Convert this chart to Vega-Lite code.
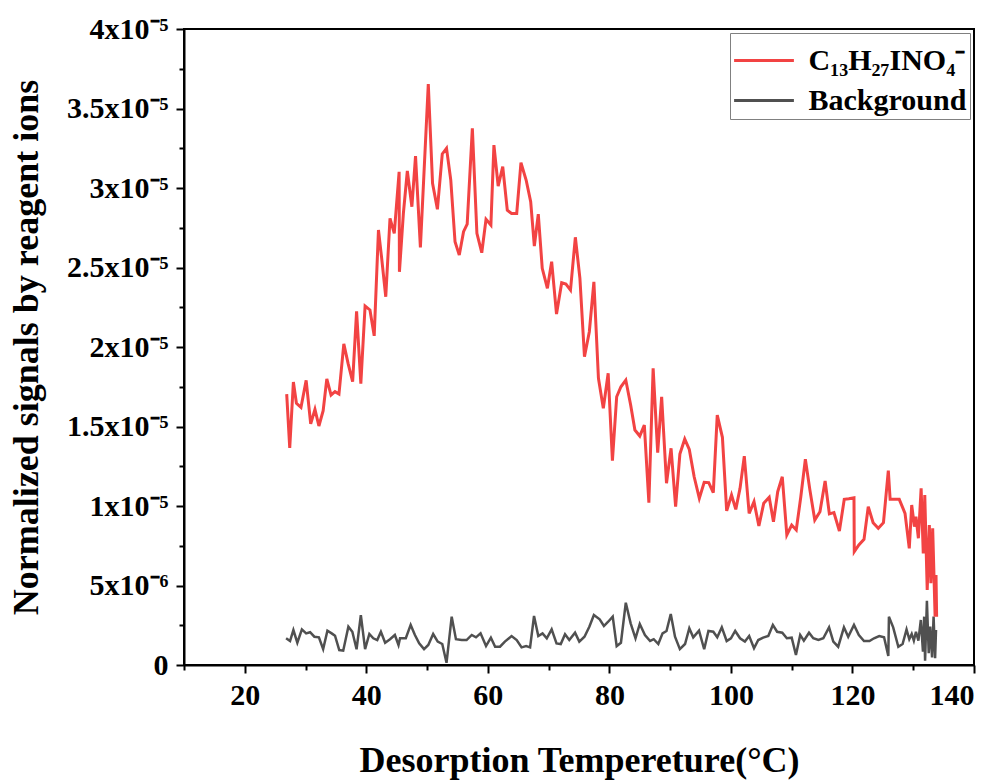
{
"$schema": "https://vega.github.io/schema/vega-lite/v6.json",
"width": 790,
"height": 636,
"autosize": {"type": "none"},
"padding": {"left": 184, "top": 29, "right": 30, "bottom": 115},
"background": "white",
"config": {"view": {"stroke": "black", "strokeWidth": 2}, "font": "Liberation Serif"},
"datasets": {
"red": [
{"t":26.9,"v":1.704e-5},{"t":27.4,"v":1.365e-5},{"t":28.0,"v":1.78e-5},{"t":28.5,"v":1.646e-5},{"t":29.25,"v":1.62e-5},{"t":30.1,"v":1.79e-5},{"t":30.85,"v":1.516e-5},{"t":31.55,"v":1.608e-5},{"t":32.2,"v":1.503e-5},{"t":32.9,"v":1.599e-5},{"t":33.5,"v":1.8e-5},{"t":34.2,"v":1.698e-5},{"t":34.85,"v":1.719e-5},{"t":35.5,"v":1.704e-5},{"t":36.3,"v":2.02e-5},{"t":37.0,"v":1.897e-5},{"t":37.75,"v":1.782e-5},{"t":38.4,"v":2.224e-5},{"t":39.1,"v":1.77e-5},{"t":39.8,"v":2.258e-5},{"t":40.6,"v":2.233e-5},{"t":41.3,"v":2.07e-5},{"t":42.0,"v":2.736e-5},{"t":42.5,"v":2.568e-5},{"t":43.2,"v":2.316e-5},{"t":43.9,"v":2.809e-5},{"t":44.6,"v":2.715e-5},{"t":45.4,"v":3.102e-5},{"t":45.45,"v":2.473e-5},{"t":46.1,"v":2.84e-5},{"t":46.75,"v":3.107e-5},{"t":47.5,"v":2.882e-5},{"t":48.1,"v":3.2e-5},{"t":48.9,"v":2.627e-5},{"t":50.2,"v":3.654e-5},{"t":50.9,"v":3.03e-5},{"t":51.7,"v":2.866e-5},{"t":52.5,"v":3.214e-5},{"t":53.2,"v":3.25e-5},{"t":53.9,"v":3.05e-5},{"t":54.6,"v":2.662e-5},{"t":55.3,"v":2.578e-5},{"t":56.0,"v":2.725e-5},{"t":56.6,"v":2.773e-5},{"t":57.45,"v":3.375e-5},{"t":58.2,"v":2.715e-5},{"t":59.0,"v":2.593e-5},{"t":59.7,"v":2.803e-5},{"t":60.5,"v":2.767e-5},{"t":61.0,"v":3.27e-5},{"t":61.7,"v":3.012e-5},{"t":62.45,"v":3.134e-5},{"t":63.2,"v":2.86e-5},{"t":63.9,"v":2.84e-5},{"t":64.75,"v":2.84e-5},{"t":65.45,"v":3.159e-5},{"t":66.3,"v":3.05e-5},{"t":67.05,"v":2.914e-5},{"t":67.65,"v":2.635e-5},{"t":68.3,"v":2.836e-5},{"t":68.95,"v":2.495e-5},{"t":69.8,"v":2.369e-5},{"t":70.5,"v":2.537e-5},{"t":71.3,"v":2.207e-5},{"t":72.15,"v":2.404e-5},{"t":72.85,"v":2.396e-5},{"t":73.6,"v":2.358e-5},{"t":74.4,"v":2.69e-5},{"t":75.15,"v":2.432e-5},{"t":75.9,"v":1.939e-5},{"t":76.7,"v":2.096e-5},{"t":77.45,"v":2.41e-5},{"t":78.2,"v":1.803e-5},{"t":79.0,"v":1.614e-5},{"t":79.8,"v":1.835e-5},{"t":80.5,"v":1.285e-5},{"t":81.2,"v":1.687e-5},{"t":81.9,"v":1.75e-5},{"t":82.7,"v":1.792e-5},{"t":83.5,"v":1.635e-5},{"t":84.2,"v":1.478e-5},{"t":85.0,"v":1.44e-5},{"t":85.75,"v":1.509e-5},{"t":86.5,"v":1.021e-5},{"t":87.2,"v":1.866e-5},{"t":87.95,"v":1.335e-5},{"t":88.6,"v":1.687e-5},{"t":89.4,"v":1.143e-5},{"t":90.15,"v":1.363e-5},{"t":90.9,"v":9.96e-6},{"t":91.6,"v":1.327e-5},{"t":92.4,"v":1.421e-5},{"t":93.15,"v":1.356e-5},{"t":93.95,"v":1.184e-5},{"t":94.8,"v":1.048e-5},{"t":95.6,"v":1.149e-5},{"t":96.35,"v":1.147e-5},{"t":97.1,"v":1.084e-5},{"t":97.75,"v":1.572e-5},{"t":98.6,"v":1.432e-5},{"t":99.3,"v":9.69e-6},{"t":100.1,"v":1.069e-5},{"t":100.8,"v":9.79e-6},{"t":101.5,"v":1.111e-5},{"t":102.2,"v":1.314e-5},{"t":103.0,"v":9.54e-6},{"t":103.8,"v":1.027e-5},{"t":104.6,"v":8.74e-6},{"t":105.4,"v":1.017e-5},{"t":106.3,"v":1.055e-5},{"t":107.0,"v":9.01e-6},{"t":107.7,"v":1.09e-5},{"t":108.45,"v":1.184e-5},{"t":109.2,"v":8.18e-6},{"t":110.0,"v":8.8e-6},{"t":110.75,"v":8.49e-6},{"t":111.5,"v":1.058e-5},{"t":112.25,"v":1.294e-5},{"t":113.0,"v":1.1e-5},{"t":113.8,"v":9.12e-6},{"t":114.65,"v":9.64e-6},{"t":115.5,"v":1.157e-5},{"t":116.2,"v":9.5e-6},{"t":116.95,"v":9.58e-6},{"t":117.85,"v":8.43e-6},{"t":118.65,"v":1.042e-5},{"t":119.4,"v":1.046e-5},{"t":120.25,"v":1.052e-5},{"t":120.3,"v":7.13e-6},{"t":121.05,"v":7.55e-6},{"t":121.9,"v":7.9e-6},{"t":122.6,"v":9.96e-6},{"t":123.4,"v":8.95e-6},{"t":124.25,"v":8.6e-6},{"t":125.1,"v":8.95e-6},{"t":125.9,"v":1.222e-5},{"t":126.2,"v":1.042e-5},{"t":127.7,"v":1.042e-5},{"t":128.65,"v":9.54e-6},{"t":129.35,"v":7.34e-6},{"t":129.75,"v":1.006e-5},{"t":130.2,"v":8.7e-6},{"t":130.45,"v":9.33e-6},{"t":130.85,"v":7.97e-6},{"t":131.3,"v":1.111e-5},{"t":131.65,"v":7.02e-6},{"t":131.9,"v":1.069e-5},{"t":132.3,"v":4.72e-6},{"t":132.65,"v":8.8e-6},{"t":132.9,"v":5.14e-6},{"t":133.2,"v":8.6e-6},{"t":133.6,"v":3.04e-6},{"t":133.75,"v":5.66e-6},{"t":133.85,"v":3.04e-6}
],
"bg": [
{"t":26.8,"v":1.68e-6},{"t":27.45,"v":1.51e-6},{"t":28.0,"v":2.2e-6},{"t":28.65,"v":1.4e-6},{"t":29.4,"v":2.24e-6},{"t":30.1,"v":1.99e-6},{"t":30.75,"v":2.06e-6},{"t":31.45,"v":1.78e-6},{"t":32.2,"v":1.74e-6},{"t":32.9,"v":1.0e-6},{"t":33.6,"v":2.16e-6},{"t":34.3,"v":1.99e-6},{"t":34.85,"v":1.84e-6},{"t":35.55,"v":0.94e-6},{"t":36.2,"v":0.9e-6},{"t":37.05,"v":2.41e-6},{"t":37.7,"v":2.09e-6},{"t":38.4,"v":0.99e-6},{"t":39.1,"v":3.14e-6},{"t":39.8,"v":1.0e-6},{"t":40.5,"v":1.95e-6},{"t":41.15,"v":1.68e-6},{"t":41.8,"v":1.57e-6},{"t":42.4,"v":2.09e-6},{"t":43.1,"v":1.4e-6},{"t":43.9,"v":1.62e-6},{"t":44.7,"v":1.89e-6},{"t":45.3,"v":1.26e-6},{"t":45.55,"v":1.68e-6},{"t":46.5,"v":1.68e-6},{"t":47.3,"v":2.52e-6},{"t":48.0,"v":1.89e-6},{"t":48.7,"v":1.36e-6},{"t":49.5,"v":1.0e-6},{"t":50.2,"v":1.26e-6},{"t":51.0,"v":1.95e-6},{"t":51.75,"v":1.47e-6},{"t":52.5,"v":1.32e-6},{"t":53.2,"v":0.14e-6},{"t":54.05,"v":3.04e-6},{"t":54.75,"v":1.62e-6},{"t":55.7,"v":1.57e-6},{"t":56.5,"v":1.57e-6},{"t":57.35,"v":1.89e-6},{"t":58.05,"v":1.74e-6},{"t":58.8,"v":1.99e-6},{"t":59.7,"v":1.19e-6},{"t":60.5,"v":1.72e-6},{"t":61.2,"v":1.15e-6},{"t":62.0,"v":1.15e-6},{"t":62.8,"v":1.47e-6},{"t":63.9,"v":1.82e-6},{"t":64.75,"v":1.57e-6},{"t":65.55,"v":1.11e-6},{"t":66.3,"v":1.19e-6},{"t":66.95,"v":1.11e-6},{"t":67.6,"v":3.08e-6},{"t":68.3,"v":1.82e-6},{"t":69.0,"v":1.99e-6},{"t":69.7,"v":1.68e-6},{"t":70.5,"v":2.24e-6},{"t":71.3,"v":1.36e-6},{"t":72.0,"v":1.32e-6},{"t":72.7,"v":1.93e-6},{"t":73.4,"v":1.57e-6},{"t":74.35,"v":2.03e-6},{"t":75.05,"v":1.47e-6},{"t":75.9,"v":1.78e-6},{"t":76.7,"v":2.41e-6},{"t":77.45,"v":3.14e-6},{"t":78.4,"v":2.87e-6},{"t":79.1,"v":2.45e-6},{"t":79.8,"v":2.72e-6},{"t":80.55,"v":3.04e-6},{"t":81.2,"v":1.19e-6},{"t":81.9,"v":1.4e-6},{"t":82.7,"v":3.92e-6},{"t":83.5,"v":2.62e-6},{"t":84.3,"v":1.68e-6},{"t":85.0,"v":2.58e-6},{"t":85.85,"v":1.89e-6},{"t":86.7,"v":1.51e-6},{"t":87.3,"v":1.62e-6},{"t":88.05,"v":1.32e-6},{"t":88.75,"v":1.99e-6},{"t":89.4,"v":2.14e-6},{"t":90.1,"v":3.21e-6},{"t":90.8,"v":1.78e-6},{"t":91.6,"v":1.0e-6},{"t":92.45,"v":1.32e-6},{"t":93.15,"v":2.31e-6},{"t":93.8,"v":1.74e-6},{"t":94.75,"v":2.16e-6},{"t":95.6,"v":0.99e-6},{"t":96.3,"v":2.14e-6},{"t":97.1,"v":2.09e-6},{"t":97.75,"v":1.74e-6},{"t":98.5,"v":2.37e-6},{"t":99.3,"v":1.51e-6},{"t":100.0,"v":1.68e-6},{"t":100.7,"v":2.14e-6},{"t":101.5,"v":1.68e-6},{"t":102.3,"v":1.47e-6},{"t":103.0,"v":1.82e-6},{"t":103.8,"v":1.05e-6},{"t":104.5,"v":1.57e-6},{"t":105.3,"v":1.72e-6},{"t":106.15,"v":1.82e-6},{"t":106.9,"v":2.52e-6},{"t":107.6,"v":2.09e-6},{"t":108.45,"v":2.03e-6},{"t":109.2,"v":1.68e-6},{"t":110.0,"v":1.72e-6},{"t":110.7,"v":0.63e-6},{"t":111.4,"v":1.89e-6},{"t":112.0,"v":1.53e-6},{"t":112.85,"v":2.03e-6},{"t":113.55,"v":1.68e-6},{"t":114.4,"v":1.57e-6},{"t":115.2,"v":1.68e-6},{"t":116.15,"v":2.37e-6},{"t":116.85,"v":1.47e-6},{"t":117.65,"v":1.15e-6},{"t":118.6,"v":2.37e-6},{"t":119.3,"v":1.78e-6},{"t":120.25,"v":2.52e-6},{"t":121.05,"v":1.89e-6},{"t":121.9,"v":1.51e-6},{"t":122.8,"v":1.51e-6},{"t":123.55,"v":1.68e-6},{"t":124.4,"v":1.82e-6},{"t":125.2,"v":1.74e-6},{"t":125.9,"v":0.57e-6},{"t":126.0,"v":3.04e-6},{"t":126.7,"v":2.37e-6},{"t":127.55,"v":1.15e-6},{"t":128.25,"v":1.32e-6},{"t":128.9,"v":2.24e-6},{"t":129.35,"v":1.62e-6},{"t":129.75,"v":1.95e-6},{"t":130.1,"v":1.53e-6},{"t":130.45,"v":2.09e-6},{"t":130.85,"v":1.53e-6},{"t":131.25,"v":2.83e-6},{"t":131.6,"v":0.84e-6},{"t":131.8,"v":3.04e-6},{"t":131.95,"v":0.27e-6},{"t":132.25,"v":4.04e-6},{"t":132.55,"v":0.74e-6},{"t":132.8,"v":2.41e-6},{"t":133.1,"v":0.48e-6},{"t":133.35,"v":3.04e-6},{"t":133.6,"v":0.42e-6},{"t":133.75,"v":2.2e-6}
]
},
"encoding": {
  "x": {"field": "t", "type": "quantitative",
    "scale": {"domain": [10, 140], "nice": false, "zero": false},
    "axis": {"title": "Desorption Tempereture(°C)", "values": [10,20,30,40,50,60,70,80,90,100,110,120,130,140],
      "labelExpr": "datum.value % 20 == 0 ? datum.label : ''",
      "tickSize": {"condition": {"test": "datum.value % 20 == 0", "value": 8}, "value": 5},
      "tickWidth": 2, "tickColor": "black", "domainColor": "black", "domainWidth": 2, "grid": false,
      "labelFont": "Liberation Serif", "labelFontSize": 30, "labelFontWeight": "bold", "labelColor": "black", "labelPadding": 7,
      "titleFont": "Liberation Serif", "titleFontSize": 36, "titleFontWeight": "bold", "titleColor": "black",
      "titleBaseline": "alphabetic", "titleY": 106}},
  "y": {"field": "v", "type": "quantitative",
    "scale": {"domain": [0, 0.00004], "nice": false},
    "axis": {"title": "Normalized signals by reagent ions",
      "values": [0,0.0000025,0.000005,0.0000075,0.00001,0.0000125,0.000015,0.0000175,0.00002,0.0000225,0.000025,0.0000275,0.00003,0.0000325,0.000035,0.0000375,0.00004],
      "labelExpr": "round(datum.value*10000000) % 50 != 0 ? '' : (round(datum.value*10000000) == 0 ? '0' : (round(datum.value*10000000) == 50 ? '5x10⁻⁶' : (round(datum.value*10000000)/100) + 'x10⁻⁵'))",
      "tickSize": {"condition": {"test": "round(datum.value*10000000) % 50 == 0", "value": 8}, "value": 5},
      "tickWidth": 2, "tickColor": "black", "domainColor": "black", "domainWidth": 2, "grid": false,
      "labelFont": "Liberation Serif", "labelFontSize": 30, "labelFontWeight": "bold", "labelColor": "black", "labelPadding": 8,
      "titleFont": "Liberation Serif", "titleFontSize": 36, "titleFontWeight": "bold", "titleColor": "black",
      "titleX": -139, "titleBaseline": "bottom"}},
  "color": {"field": "series", "type": "nominal",
    "scale": {"domain": ["C₁₃H₂₇INO₄⁻", "Background"], "range": ["#f24343", "#505050"]},
    "legend": {"title": null, "orient": "top-right", "offset": 4, "symbolType": "M-1.3,0H1.3", "symbolSize": 2116, "symbolStrokeWidth": 3, "symbolOffset": 6.5,
      "labelFont": "Liberation Serif", "labelFontSize": 30, "labelFontWeight": "bold", "labelColor": "black", "labelLimit": 400, "labelOffset": 20,
      "strokeColor": "#808080", "fillColor": "white", "padding": 3, "rowPadding": -7, "cornerRadius": 0}}
},
"layer": [
  {"data": {"name": "bg"}, "transform": [{"calculate": "'Background'", "as": "series"}], "mark": {"type": "line", "strokeWidth": 2.5}},
  {"data": {"name": "red"}, "transform": [{"calculate": "'C₁₃H₂₇INO₄⁻'", "as": "series"}], "mark": {"type": "line", "strokeWidth": 3}}
]
}
